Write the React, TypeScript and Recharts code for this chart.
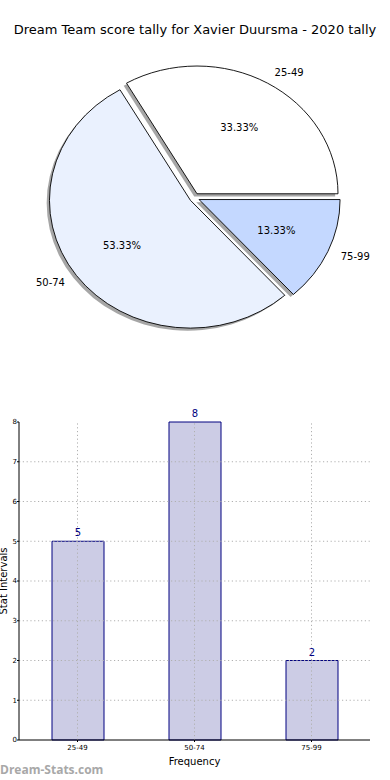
import React from 'react';
import { PieChart, Pie, Cell, BarChart, Bar, XAxis, YAxis, ReferenceLine, LabelList } from 'recharts';

const categories = ['25-49', '50-74', '75-99'];
const counts = [5, 8, 2];
const pieColors = ['#ffffff', '#eaf1fe', '#c4d8ff'];
const yTicks = [0, 1, 2, 3, 4, 5, 6, 7, 8];
const titleText = 'Dream Team score tally for Xavier Duursma - 2020 tally';
const xLabel = 'Frequency';
const yLabel = 'Stat Intervals';
const watermark = 'Dream-Stats.com';

const FONT = '"DejaVu Sans", Verdana, sans-serif';
const ASPECT = 0.906;
const EXPLODE = 5;
const RAD = Math.PI / 180;

const pieData = categories.map((c, i) => ({ name: c, value: counts[i] }));
const barData = categories.map((c, i) => ({ name: c, value: counts[i] }));

function explodedCenter(cx: number, cy: number, mid: number) {
  return [cx + EXPLODE * Math.cos(mid * RAD), cy - EXPLODE * ASPECT * Math.sin(mid * RAD)];
}
function pt(cx: number, cy: number, rx: number, a: number) {
  return [cx + rx * Math.cos(a * RAD), cy - rx * ASPECT * Math.sin(a * RAD)];
}

function sectorPath(cx: number, cy: number, r: number, s: number, e: number) {
  const [x1, y1] = pt(cx, cy, r, s);
  const [x2, y2] = pt(cx, cy, r, e);
  const large = Math.abs(e - s) > 180 ? 1 : 0;
  return `M${cx},${cy} L${x1},${y1} A${r},${r * ASPECT} 0 ${large} 0 ${x2},${y2} Z`;
}

function EllipseSector(props: any) {
  const { cx, cy, outerRadius, startAngle, endAngle, fill } = props;
  const mid = (startAngle + endAngle) / 2;
  const [ex, ey] = explodedCenter(cx, cy, mid);
  const d = sectorPath(ex, ey, outerRadius, startAngle, endAngle);
  return (
    <g>
      <path d={d} transform="translate(-2.8,2.6)" fill="#4d4d4d" fillOpacity={0.5} stroke="none" />
      <path d={d} fill={fill} stroke="#000" strokeWidth={0.9} strokeLinejoin="miter" />
    </g>
  );
}

function PieLabel(props: any) {
  const { cx, cy, midAngle, outerRadius, percent, name } = props;
  const [ex, ey] = explodedCenter(cx, cy, midAngle);
  const [lx, ly] = pt(ex, ey, outerRadius * 1.1, midAngle);
  const [px, py] = pt(ex, ey, outerRadius * 0.6, midAngle);
  const anchor = Math.cos(midAngle * RAD) >= 0 ? 'start' : 'end';
  return (
    <g>
      <text x={lx} y={ly} textAnchor={anchor} dominantBaseline="central" fontSize={10} fontFamily={FONT} fill="#000">
        {name}
      </text>
      <text x={px} y={py} textAnchor="middle" dominantBaseline="central" fontSize={10} fontFamily={FONT} fill="#000">
        {(percent * 100).toFixed(2)}%
      </text>
    </g>
  );
}

const gridStyle = { stroke: '#b0b0b0', strokeDasharray: '1.2 2.6', strokeWidth: 1 };

export default function App() {
  return (
    <div style={{ position: 'absolute', left: 0, top: 0, width: 390, height: 780, background: '#fff', overflow: 'hidden' }}>
      <div
        style={{
          position: 'absolute', left: 0, top: 22, width: 390, textAlign: 'center',
          fontFamily: FONT, fontSize: 13, lineHeight: '16px', color: '#000', whiteSpace: 'nowrap',
        }}
      >
        {titleText}
      </div>
      <div style={{ position: 'absolute', left: 0, top: 0 }}>
        <PieChart width={390} height={345} margin={{ top: 0, right: 0, bottom: 0, left: 0 }}>
          <Pie
            data={pieData}
            dataKey="value"
            nameKey="name"
            cx={194.5}
            cy={197.7}
            outerRadius={141}
            startAngle={0}
            endAngle={360}
            isAnimationActive={false}
            labelLine={false}
            label={PieLabel}
            shape={EllipseSector}
            inactiveShape={EllipseSector}
            activeShape={EllipseSector}
          >
            {pieData.map((d, i) => (
              <Cell key={d.name} fill={pieColors[i]} />
            ))}
          </Pie>
        </PieChart>
      </div>
      <div style={{ position: 'absolute', left: 0, top: 400 }}>
        <BarChart width={390} height={380} data={barData} margin={{ top: 22, right: 20, bottom: 10, left: 0 }}>
          <XAxis
            dataKey="name"
            height={30}
            tickSize={2}
            tickMargin={3}
            tick={{ fontSize: 7, fontFamily: FONT, fill: '#000' }}
            axisLine={{ stroke: '#000', strokeWidth: 1 }}
            tickLine={{ stroke: '#000' }}
            label={{ value: xLabel, position: 'insideBottom', offset: 5, fontSize: 10, fontFamily: FONT, fill: '#000' }}
          />
          <XAxis xAxisId="top" dataKey="name" orientation="top" height={0} tick={false} tickLine={false} axisLine={{ stroke: '#000', strokeWidth: 1 }} />
          <YAxis
            width={19}
            domain={[0, 8]}
            ticks={yTicks}
            interval={0}
            tickSize={2}
            tickMargin={0}
            tick={{ fontSize: 7, fontFamily: FONT, fill: '#000' }}
            axisLine={{ stroke: '#000', strokeWidth: 1 }}
            tickLine={{ stroke: '#000' }}
            label={{
              content: (p: any) => {
                const vb = p.viewBox || { x: 0, y: 22, width: 19, height: 318 };
                const yc = vb.y + vb.height / 2;
                return (
                  <text x={7} y={yc} transform={`rotate(-90, 7, ${yc})`} textAnchor="middle" fontSize={10} fontFamily={FONT} fill="#000">
                    {yLabel}
                  </text>
                );
              },
            }}
          />
          <YAxis yAxisId="right" orientation="right" width={0} domain={[0, 8]} ticks={yTicks} tick={false} tickLine={false} axisLine={{ stroke: '#000', strokeWidth: 1 }} />
          <Bar dataKey="value" fill="#ccccE5" stroke="#000080" strokeWidth={1} barSize={52} isAnimationActive={false}>
            <LabelList dataKey="value" position="top" offset={5} fill="#000080" fontSize={10} fontFamily={FONT} />
          </Bar>
          {yTicks.slice(1, -1).map((t) => (
            <ReferenceLine key={'h' + t} y={t} {...gridStyle} />
          ))}
          {categories.map((c) => (
            <ReferenceLine key={'v' + c} x={c} {...gridStyle} />
          ))}
        </BarChart>
      </div>
      <div
        style={{
          position: 'absolute', left: 0, top: 762, fontFamily: '"Open Sans", sans-serif', fontWeight: 700,
          fontSize: 12, lineHeight: '16px', color: '#a8a8a8', whiteSpace: 'nowrap',
        }}
      >
        {watermark}
      </div>
    </div>
  );
}
